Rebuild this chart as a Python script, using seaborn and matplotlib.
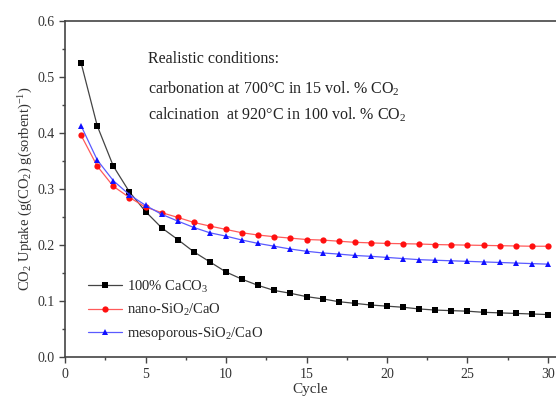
import numpy as np
import pandas as pd
import matplotlib
matplotlib.use("Agg")
import matplotlib.pyplot as plt
import seaborn as sns
from matplotlib.ticker import MultipleLocator

cycles = list(range(1, 31))
caco3 = [0.525, 0.413, 0.341, 0.295, 0.260, 0.231, 0.210, 0.188, 0.170, 0.152,
         0.139, 0.128, 0.119, 0.114, 0.108, 0.104, 0.099, 0.096, 0.093, 0.091,
         0.089, 0.086, 0.084, 0.083, 0.082, 0.080, 0.079, 0.078, 0.077, 0.076]
nano = [0.396, 0.341, 0.305, 0.285, 0.268, 0.258, 0.2495, 0.2405, 0.234, 0.228,
        0.222, 0.218, 0.215, 0.2125, 0.210, 0.209, 0.207, 0.205, 0.204, 0.203,
        0.2025, 0.202, 0.201, 0.2005, 0.200, 0.1995, 0.199, 0.1985, 0.198, 0.198]
meso = [0.413, 0.352, 0.315, 0.290, 0.271, 0.255, 0.243, 0.2315, 0.222, 0.216,
        0.209, 0.203, 0.198, 0.193, 0.189, 0.186, 0.184, 0.1815, 0.180, 0.178,
        0.176, 0.174, 0.173, 0.172, 0.171, 0.170, 0.169, 0.168, 0.167, 0.166]
labels = ["100% CaCO$_3$", "nano-SiO$_2$/CaO", "mesoporous-SiO$_2$/CaO"]
colors = ["black", "#ff1010", "#1010ff"]
line_colors = ["#444444", "#ff5a5a", "#5a5aff"]
markers = ["s", "o", "^"]
msizes = [4.0, 4.5, 5.0]

df = pd.concat([
    pd.DataFrame({"Cycle": cycles, "Uptake": v, "Sample": lab})
    for v, lab in zip([caco3, nano, meso], labels)
])

sns.set_style("ticks")
plt.rcParams["font.family"] = ["Liberation Serif", "DejaVu Serif"]
plt.rcParams["mathtext.fontset"] = "custom"
plt.rcParams["mathtext.rm"] = "Liberation Serif"
plt.rcParams["mathtext.it"] = "Liberation Serif:italic"

fig = plt.figure(figsize=(5.56, 3.99), dpi=100)
ax = fig.add_axes([0.117, 0.105, 0.883, 0.842])

sns.lineplot(data=df, x="Cycle", y="Uptake", hue="Sample", style="Sample",
             palette=dict(zip(labels, colors)), markers=dict(zip(labels, markers)),
             dashes=False, linewidth=0.9, markersize=4.2, markeredgewidth=0,
             ax=ax, legend=True)

ax.set_xlim(0, 30.5)
ax.set_ylim(0, 0.6)
ax.xaxis.set_major_locator(MultipleLocator(5))
ax.xaxis.set_minor_locator(MultipleLocator(2.5))
ax.yaxis.set_major_locator(MultipleLocator(0.1))
ax.yaxis.set_minor_locator(MultipleLocator(0.05))
ax.tick_params(which="major", direction="out", length=4, width=1, colors="#444444",
               labelsize=10, labelcolor="#333333")
ax.tick_params(which="minor", direction="out", length=2.5, width=1, colors="#444444")
ax.yaxis.set_major_formatter(matplotlib.ticker.FormatStrFormatter("%.1f"))
for s in ["left", "bottom", "top"]:
    ax.spines[s].set_color("#444444")
    ax.spines[s].set_linewidth(1.2)
ax.spines["right"].set_visible(False)

ax.set_xlabel("Cycle", fontsize=11, color="#333333", labelpad=2)
ax.set_ylabel("CO$_2$ Uptake (g(CO$_2$) g(sorbent)$^{-1}$)", fontsize=10.5,
              color="#333333", labelpad=2)

ax.text(5.15, 0.533, "Realistic conditions:", fontsize=11.5, va="center", ha="left", color="#222222")
ax.text(5.15, 0.479, "carbonation at 700°C in 15 vol. % CO$_2$", fontsize=11.5,
        va="center", ha="left", color="#222222")
ax.text(5.15, 0.432, "calcination  at 920°C in 100 vol. % CO$_2$", fontsize=11.5,
        va="center", ha="left", color="#222222")

leg = ax.legend(loc="lower left", bbox_to_anchor=(0.02, 0.005), frameon=False, fontsize=10.5,
                handlelength=2.3, handletextpad=0.4, labelspacing=0.5, title=None)

def restyle(line, i):
    line.set_color(line_colors[i])
    line.set_markerfacecolor(colors[i])
    line.set_markeredgecolor(colors[i])
    line.set_markersize(msizes[i])

for i, line in enumerate(ax.lines[:3]):
    restyle(line, i)
for i, h in enumerate(leg.legend_handles):
    restyle(h, i)

fig.savefig("out.png", dpi=100)
